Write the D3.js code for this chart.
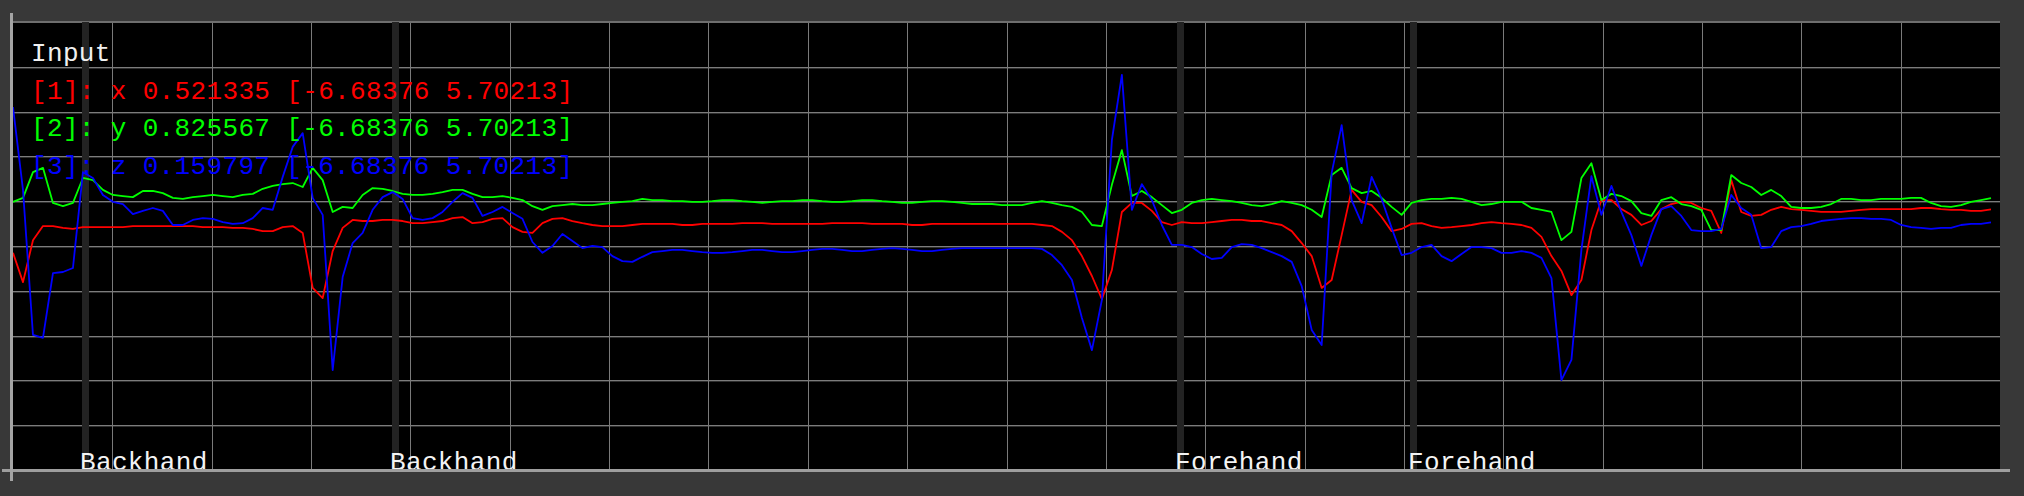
<!DOCTYPE html>
<html><head><meta charset="utf-8">
<script src="https://cdn.jsdelivr.net/npm/d3@7"></script>
<style>
html,body{margin:0;padding:0;background:#383838;overflow:hidden;}
svg{display:block;}
text{font-family:"Liberation Mono","DejaVu Sans Mono",monospace;font-size:26px;letter-spacing:0.35px;}
</style></head><body>
<svg id="c" width="2024" height="496"></svg>
<script>
// ---------------- data ----------------
const title = "Input";
const seriesLabels = ["[1]: x", "[2]: y", "[3]: z"];
const currentValues = [0.521335, 0.825567, 0.159797];
const rangeMin = -6.68376;
const rangeMax = 5.70213;

const xSeries = [
-0.68,-1.49,-0.33,0.06,0.06,0.01,-0.02,0.03,0.03,0.03,
0.03,0.03,0.06,0.06,0.06,0.06,0.06,0.06,0.06,0.03,
0.03,0.03,0.01,0.01,-0.02,-0.08,-0.08,0.03,0.06,-0.13,
-1.65,-1.93,-0.63,0.01,0.23,0.20,0.20,0.23,0.23,0.20,
0.14,0.14,0.17,0.20,0.28,0.31,0.14,0.17,0.26,0.28,
0.03,-0.10,-0.13,0.14,0.26,0.28,0.20,0.14,0.09,0.06,
0.06,0.06,0.09,0.12,0.12,0.12,0.12,0.09,0.09,0.12,
0.12,0.12,0.12,0.14,0.14,0.14,0.12,0.12,0.12,0.12,
0.12,0.12,0.14,0.14,0.14,0.14,0.12,0.12,0.12,0.12,
0.09,0.09,0.12,0.12,0.12,0.12,0.12,0.12,0.12,0.12,
0.12,0.12,0.12,0.09,0.06,-0.10,-0.33,-0.77,-1.32,-1.96,
-1.15,0.45,0.70,0.70,0.48,0.17,0.09,0.17,0.14,0.14,
0.17,0.20,0.23,0.23,0.20,0.20,0.14,0.09,-0.08,-0.41,
-0.77,-1.65,-1.43,-0.19,1.06,0.73,0.64,0.31,-0.08,-0.02,
0.12,0.14,0.06,0.01,0.03,0.06,0.09,0.14,0.17,0.14,
0.12,0.09,0.01,-0.24,-0.77,-1.18,-1.85,-1.43,-0.05,0.78,
0.78,0.53,0.37,0.09,0.20,0.53,0.67,0.73,0.70,0.56,
0.48,-0.13,1.33,0.45,0.34,0.37,0.51,0.59,0.53,0.51,
0.48,0.45,0.45,0.45,0.48,0.51,0.53,0.53,0.53,0.53,
0.53,0.56,0.56,0.53,0.51,0.51,0.48,0.48,0.52
];
const ySeries = [
0.73,0.84,1.55,1.67,0.70,0.61,0.70,1.39,1.33,1.06,
0.92,0.89,0.86,1.03,1.03,0.97,0.84,0.81,0.86,0.89,
0.92,0.89,0.86,0.92,0.95,1.09,1.17,1.22,1.25,1.14,
1.67,1.33,0.45,0.59,0.56,0.92,1.11,1.09,1.03,0.95,
0.92,0.92,0.95,1.00,1.06,1.06,0.95,0.86,0.86,0.89,
0.84,0.78,0.61,0.51,0.61,0.64,0.67,0.64,0.64,0.67,
0.70,0.73,0.75,0.81,0.78,0.78,0.75,0.75,0.73,0.73,
0.75,0.78,0.78,0.75,0.73,0.70,0.73,0.75,0.75,0.78,
0.78,0.75,0.73,0.73,0.75,0.78,0.78,0.75,0.73,0.70,
0.70,0.73,0.75,0.75,0.73,0.70,0.67,0.67,0.67,0.64,
0.64,0.64,0.70,0.75,0.70,0.64,0.59,0.45,0.09,0.06,
1.20,2.16,0.89,1.03,0.86,0.64,0.42,0.51,0.70,0.78,
0.81,0.78,0.75,0.70,0.64,0.61,0.67,0.75,0.70,0.64,
0.51,0.31,1.47,1.67,1.11,0.97,1.03,0.84,0.59,0.37,
0.70,0.78,0.81,0.81,0.84,0.81,0.73,0.64,0.67,0.73,
0.73,0.73,0.56,0.51,0.45,-0.33,-0.10,1.39,1.80,0.78,
0.95,0.89,0.75,0.42,0.34,0.78,0.86,0.67,0.61,0.51,
-0.05,-0.05,1.47,1.25,1.14,0.92,1.06,0.89,0.59,0.56,
0.56,0.59,0.67,0.81,0.81,0.78,0.78,0.81,0.81,0.81,
0.84,0.84,0.70,0.61,0.59,0.64,0.73,0.78,0.83
];
const zSeries = [
3.35,1.06,-2.95,-3.03,-1.24,-1.21,-1.10,1.55,1.39,0.92,
0.73,0.67,0.39,0.48,0.56,0.48,0.09,0.09,0.23,0.28,
0.26,0.17,0.12,0.14,0.28,0.56,0.51,1.42,2.25,2.63,
0.84,0.37,-3.92,-1.35,-0.41,-0.13,0.51,0.86,1.00,0.81,
0.28,0.23,0.28,0.45,0.73,0.97,0.84,0.34,0.45,0.59,
0.42,0.26,-0.38,-0.68,-0.49,-0.16,-0.35,-0.55,-0.49,-0.52,
-0.77,-0.91,-0.93,-0.79,-0.66,-0.63,-0.60,-0.60,-0.63,-0.66,
-0.68,-0.68,-0.66,-0.63,-0.60,-0.60,-0.63,-0.66,-0.66,-0.63,
-0.60,-0.57,-0.57,-0.60,-0.63,-0.63,-0.60,-0.57,-0.55,-0.57,
-0.60,-0.63,-0.63,-0.60,-0.57,-0.55,-0.55,-0.55,-0.55,-0.55,
-0.55,-0.55,-0.55,-0.57,-0.74,-1.02,-1.43,-2.48,-3.37,-1.98,
2.44,4.24,0.51,1.22,0.78,0.09,-0.46,-0.46,-0.52,-0.71,
-0.85,-0.82,-0.52,-0.44,-0.46,-0.55,-0.66,-0.77,-0.93,-1.60,
-2.81,-3.23,1.53,2.85,0.78,0.14,1.42,0.81,0.01,-0.74,
-0.68,-0.52,-0.46,-0.77,-0.91,-0.71,-0.52,-0.52,-0.55,-0.68,
-0.68,-0.63,-0.68,-0.82,-1.38,-4.20,-3.64,-0.60,1.44,0.37,
1.17,0.45,-0.19,-1.04,-0.19,0.53,0.61,0.34,-0.05,-0.08,
-0.08,-0.02,0.92,0.56,0.37,-0.55,-0.52,-0.08,0.03,0.06,
0.12,0.20,0.23,0.26,0.28,0.28,0.26,0.26,0.23,0.09,
0.03,0.01,-0.02,0.01,0.01,0.09,0.12,0.12,0.16
];
const classLabels = ["Backhand", "Backhand", "Forehand", "Forehand"];
const classSampleIndex = [6.9, 37.9, 116.5, 139.8];
const gridCols = 20;
const gridRows = 10;

// ---------------- styles / layout ----------------
const seriesColors = ["#ff0000", "#00ff00", "#0000ff"];
const plot = {left: 13, right: 2000, top: 22, bottom: 470, dataRight: 1991};

const svg = d3.select("#c");
const n = xSeries.length;
const xScale = d3.scaleLinear().domain([0, n - 1]).range([plot.left, plot.dataRight]);
const yScale = d3.scaleLinear().domain([rangeMin, rangeMax]).range([plot.bottom, plot.top]);
const colScale = d3.scaleLinear().domain([0, gridCols]).range([plot.left, plot.right]);
const rowScale = d3.scaleLinear().domain([0, gridRows]).range([plot.bottom, plot.top]);

svg.append("rect").attr("x", 0).attr("y", 0).attr("width", 2024).attr("height", 496).attr("fill", "#383838");
svg.append("rect").attr("x", plot.left).attr("y", plot.top).attr("width", plot.right - plot.left)
  .attr("height", plot.bottom - plot.top).attr("fill", "#000");

// horizontal grid
const rows = d3.range(1, gridRows);
svg.append("g").selectAll("line.hd").data(rows).join("line")
  .attr("x1", plot.left).attr("x2", plot.right)
  .attr("y1", d => Math.round(rowScale(d)) + 1.5).attr("y2", d => Math.round(rowScale(d)) + 1.5)
  .attr("stroke", "#2e2e2e").attr("stroke-width", 1);
svg.append("g").selectAll("line.h").data(rows).join("line")
  .attr("x1", plot.left).attr("x2", plot.right)
  .attr("y1", d => Math.round(rowScale(d)) + 0.5).attr("y2", d => Math.round(rowScale(d)) + 0.5)
  .attr("stroke", "#7c7c7c").attr("stroke-width", 1);
// vertical grid
const cols = d3.range(1, gridCols);
svg.append("g").selectAll("line.v").data(cols).join("line")
  .attr("x1", d => Math.round(colScale(d)) + 0.5).attr("x2", d => Math.round(colScale(d)) + 0.5)
  .attr("y1", plot.top).attr("y2", plot.bottom)
  .attr("stroke", "#7a7a7a").attr("stroke-width", 1);
// top border
svg.append("rect").attr("x", plot.left).attr("y", plot.top - 1).attr("width", plot.right - plot.left)
  .attr("height", 2).attr("fill", "#6e6e6e");

// class marker bars
svg.append("g").selectAll("rect").data(classSampleIndex).join("rect")
  .attr("x", d => Math.round(xScale(d))).attr("y", plot.top)
  .attr("width", 7).attr("height", plot.bottom - plot.top).attr("fill", "#232323");

// series lines
const line = d3.line().x((d, i) => xScale(i)).y(d => yScale(d));
[xSeries, ySeries, zSeries].forEach((s, k) => {
  svg.append("path").datum(s).attr("d", line).attr("fill", "none")
    .attr("stroke", seriesColors[k]).attr("stroke-width", 1.8).attr("stroke-linejoin", "round");
});

// legend text
svg.append("text").attr("x", 31).attr("y", 61).attr("fill", "#f0f0f0").text(title);
seriesLabels.forEach((lab, k) => {
  svg.append("text").attr("x", 31).attr("y", 98.5 + k * 37.8).attr("fill", seriesColors[k])
    .text(`${lab} ${currentValues[k]} [${rangeMin} ${rangeMax}]`);
});

// class labels
svg.append("g").selectAll("text").data(classLabels).join("text")
  .attr("x", (d, i) => Math.round(xScale(classSampleIndex[i])) - 2)
  .attr("y", 469.5).attr("fill", "#f4f4f4").text(d => d);

// axes
svg.append("rect").attr("x", 2).attr("y", 469).attr("width", 2008).attr("height", 3).attr("fill", "#9e9e9e");
svg.append("rect").attr("x", 10).attr("y", 13).attr("width", 3).attr("height", 468).attr("fill", "#a4a4a4");
</script>
</body></html>
